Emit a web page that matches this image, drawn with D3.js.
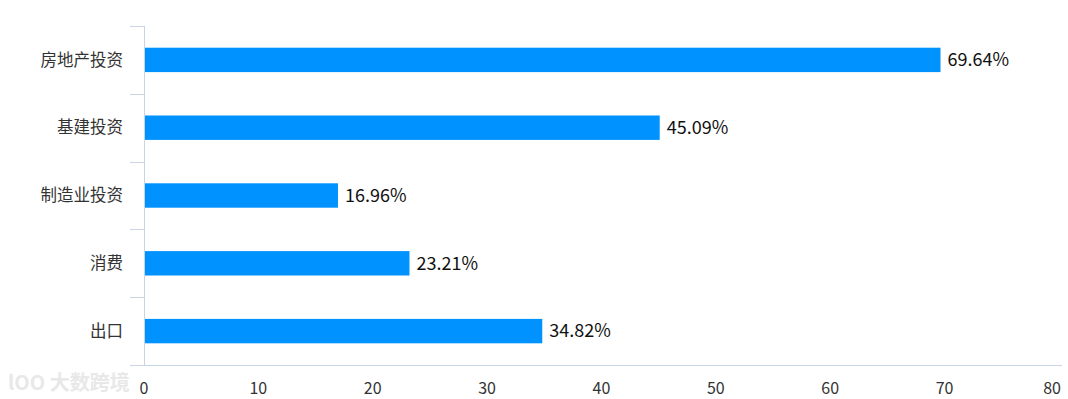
<!DOCTYPE html>
<html>
<head>
<meta charset="utf-8">
<script src="https://cdnjs.cloudflare.com/ajax/libs/d3/7.8.5/d3.min.js"></script>
<style>
  body { margin: 0; background: #fff; }
  text { font-family: "Noto Sans CJK SC", "Noto Sans", sans-serif; }
</style>
</head>
<body>
<svg id="chart" width="1068" height="399"></svg>
<script>
// Data
const categories = ["房地产投资", "基建投资", "制造业投资", "消费", "出口"];
const values = [69.64, 45.09, 16.96, 23.21, 34.82];
const xTicks = [0, 10, 20, 30, 40, 50, 60, 70, 80];

const svg = d3.select("#chart");
const mLeft = 144, mRight = 1059, mTop = 26, mBottom = 365;

const x = d3.scaleLinear().domain([0, 80]).range([mLeft, mRight]);
const y = d3.scaleBand().domain(categories).range([mTop, mBottom]).paddingInner(0.64).paddingOuter(0.32);

const axisColor = "#c8d4e3";

// y axis line + ticks at band boundaries
svg.append("line")
  .attr("x1", mLeft + 0.5).attr("x2", mLeft + 0.5)
  .attr("y1", mTop).attr("y2", mBottom)
  .attr("stroke", axisColor);
const step = (mBottom - mTop) / categories.length;
d3.range(categories.length + 1).forEach(i => {
  const yy = Math.round(mTop + i * step) + 0.5;
  svg.append("line")
    .attr("x1", 130).attr("x2", mLeft)
    .attr("y1", yy).attr("y2", yy)
    .attr("stroke", axisColor);
});

// x axis line
svg.append("line")
  .attr("x1", 130).attr("x2", 1062)
  .attr("y1", mBottom + 0.5).attr("y2", mBottom + 0.5)
  .attr("stroke", axisColor);

// x tick labels
svg.append("g").selectAll("text")
  .data(xTicks)
  .join("text")
  .attr("x", d => d === 80 ? 1061 : x(d))
  .attr("y", 394)
  .attr("text-anchor", d => d === 80 ? "end" : "middle")
  .attr("font-size", 16)
  .attr("fill", "#333")
  .text(d => d);

// category labels
svg.append("g").selectAll("text")
  .data(categories)
  .join("text")
  .attr("x", 123)
  .attr("y", d => y(d) + y.bandwidth() / 2)
  .attr("dy", "0.35em")
  .attr("text-anchor", "end")
  .attr("font-size", 16.5)
  .attr("fill", "#333")
  .text(d => d);

// bars
svg.append("g").selectAll("rect")
  .data(values)
  .join("rect")
  .attr("x", x(0) + 1)
  .attr("y", (d, i) => y(categories[i]))
  .attr("width", d => x(d) - x(0) - 1)
  .attr("height", y.bandwidth())
  .attr("fill", "#0093ff");

// value labels
svg.append("g").selectAll("text")
  .data(values)
  .join("text")
  .attr("x", d => x(d) + 7)
  .attr("y", (d, i) => y(categories[i]) + y.bandwidth() / 2)
  .attr("dy", "0.35em")
  .attr("font-size", 18)
  .attr("fill", "#111")
  .text(d => d.toFixed(2) + "%");

// watermark
svg.append("text")
  .attr("x", 8).attr("y", 390)
  .attr("font-size", 20)
  .attr("font-weight", "bold")
  .attr("fill", "#e8e8e8")
  .text("lOO 大数跨境");
</script>
</body>
</html>
